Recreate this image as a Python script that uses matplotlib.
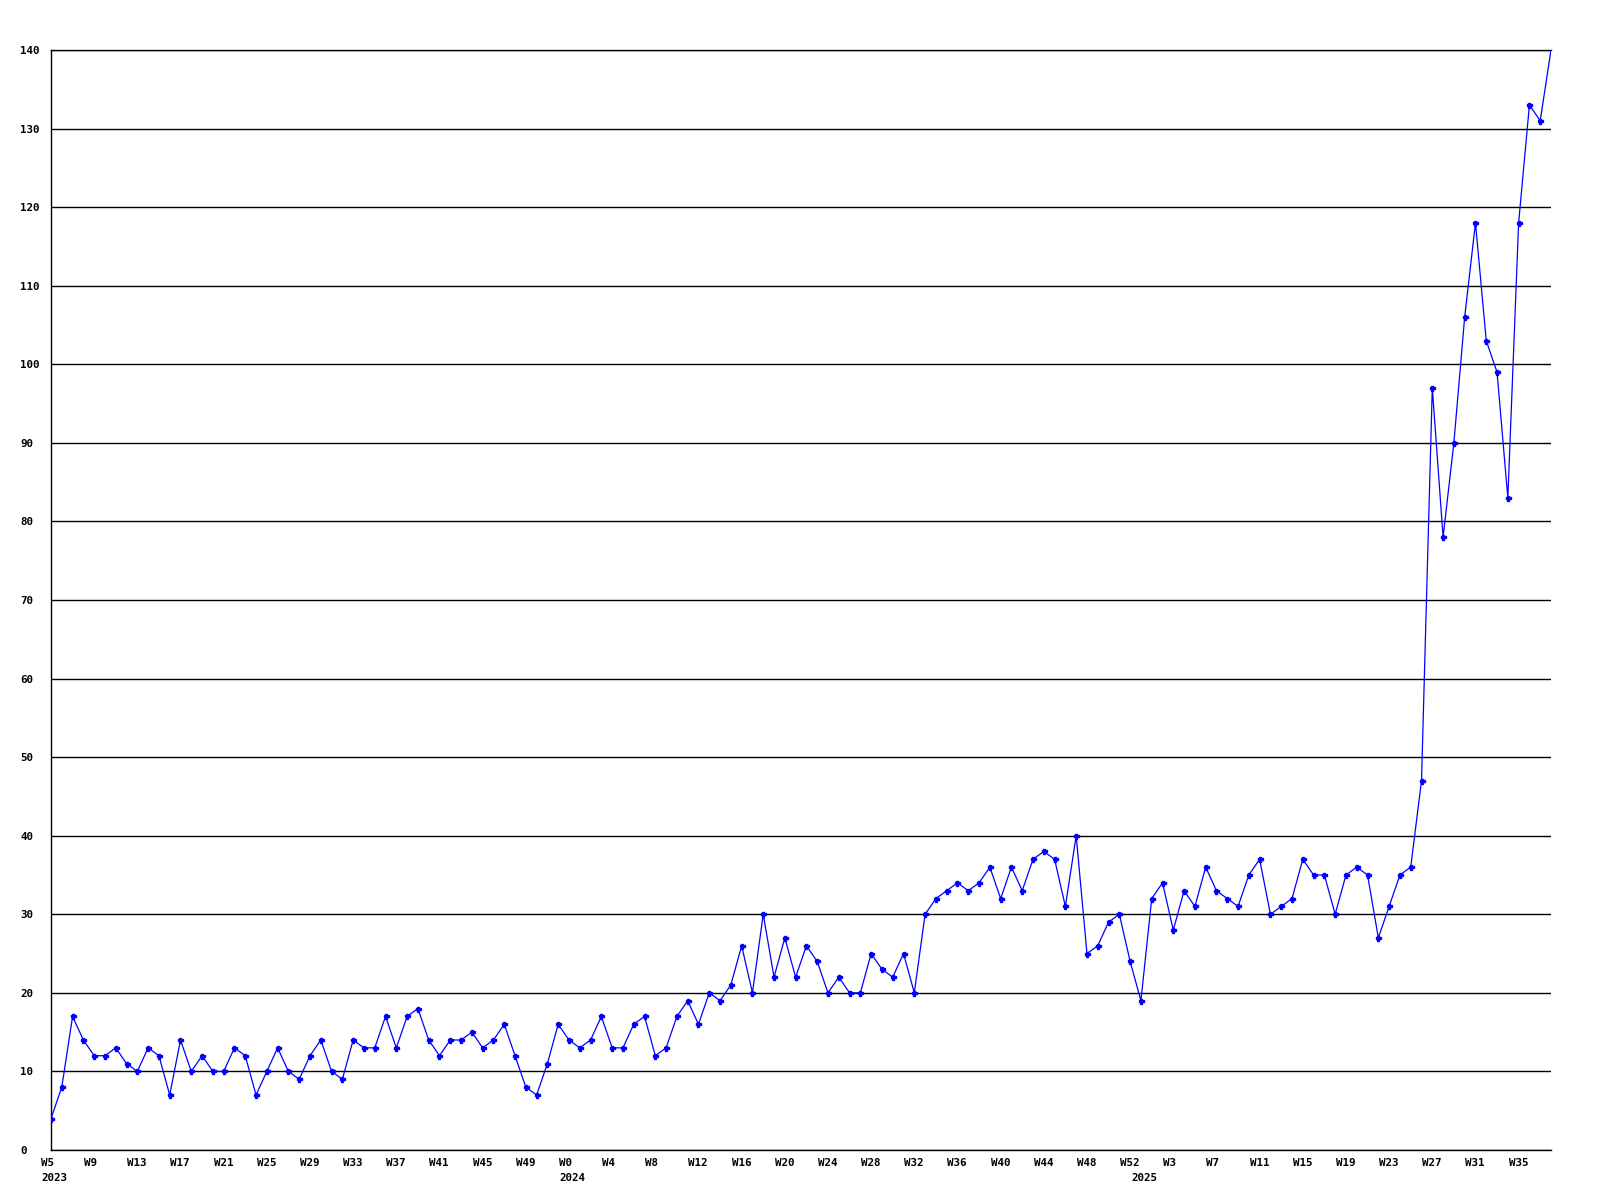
"""Weekly counts 2023-2025, redrawn as a plain matplotlib line chart"""

import matplotlib

matplotlib.use("Agg")
from matplotlib import pyplot as plt
from matplotlib.transforms import offset_copy

# weekly values, one list per year (first week of each list in *_first_week)
first_week_2023 = 5
counts_2023 = [
    4, 8, 17, 14, 12, 12, 13, 11, 10, 13, 12, 7, 14, 10, 12, 10, 10, 13, 12, 7,
    10, 13, 10, 9, 12, 14, 10, 9, 14, 13, 13, 17, 13, 17, 18, 14, 12, 14, 14, 15,
    13, 14, 16, 12, 8, 7, 11, 16,
]
first_week_2024 = 0
counts_2024 = [
    14, 13, 14, 17, 13, 13, 16, 17, 12, 13, 17, 19, 16, 20, 19, 21, 26, 20, 30, 22,
    27, 22, 26, 24, 20, 22, 20, 20, 25, 23, 22, 25, 20, 30, 32, 33, 34, 33, 34, 36,
    32, 36, 33, 37, 38, 37, 31, 40, 25, 26, 29, 30, 24,
]
first_week_2025 = 0
counts_2025 = [
    19, 32, 34, 28, 33, 31, 36, 33, 32, 31, 35, 37, 30, 31, 32, 37, 35, 35, 30, 35,
    36, 35, 27, 31, 35, 36, 47, 97, 78, 90, 106, 118, 103, 99, 83, 118, 133, 131, 140,
]
years = [2023, 2024, 2025]
y_ticks = list(range(0, 141, 10))

LABEL_FONT = {"family": "DejaVu Sans Mono", "weight": "bold", "size": 7.8}

# flatten into one series with week labels
values = []
week_labels = []
year_starts = {}
for year, first, counts in zip(
    years,
    [first_week_2023, first_week_2024, first_week_2025],
    [counts_2023, counts_2024, counts_2025],
):
    year_starts[len(values)] = year
    for offset, count in enumerate(counts):
        values.append(count)
        week_labels.append(f"W{first + offset}")

x_vals = list(range(len(values)))

fig = plt.figure(figsize=(16, 12), dpi=100)
axis = fig.add_axes([51 / 1600, 50 / 1200, 1500 / 1600, 1100 / 1200])

axis.plot(
    x_vals,
    values,
    color="#0000ff",
    lw=0.9,
    marker="P",
    markersize=3.6,
    markevery=list(range(len(values) - 1)),
    zorder=3,
)

axis.set_xlim(0, len(values) - 1)
axis.set_ylim(0, 140)
axis.set_yticks(y_ticks)
axis.set_yticklabels([str(v) for v in y_ticks], fontdict=LABEL_FONT)
axis.tick_params(axis="y", length=0, pad=22.3)
for label in axis.get_yticklabels():
    label.set_horizontalalignment("left")
axis.set_xticks([])
axis.yaxis.grid(True, color="black", lw=1.0)
axis.set_axisbelow(True)

axis.spines["right"].set_visible(False)
for side in ["left", "bottom", "top"]:
    axis.spines[side].set_color("black")
    axis.spines[side].set_linewidth(1.0)

# week labels every 4th point, year labels under each year's first week
week_trans = offset_copy(axis.get_xaxis_transform(), fig=fig, x=-10, y=-8, units="dots")
year_trans = offset_copy(axis.get_xaxis_transform(), fig=fig, x=-10, y=-23, units="dots")
for idx in range(0, len(values), 4):
    axis.text(idx, 0, week_labels[idx], transform=week_trans, ha="left", va="top",
              fontdict=LABEL_FONT)
for idx, year in year_starts.items():
    axis.text(idx, 0, str(year), transform=year_trans, ha="left", va="top",
              fontdict=LABEL_FONT)

fig.savefig("out.png", dpi=100, facecolor="white")
